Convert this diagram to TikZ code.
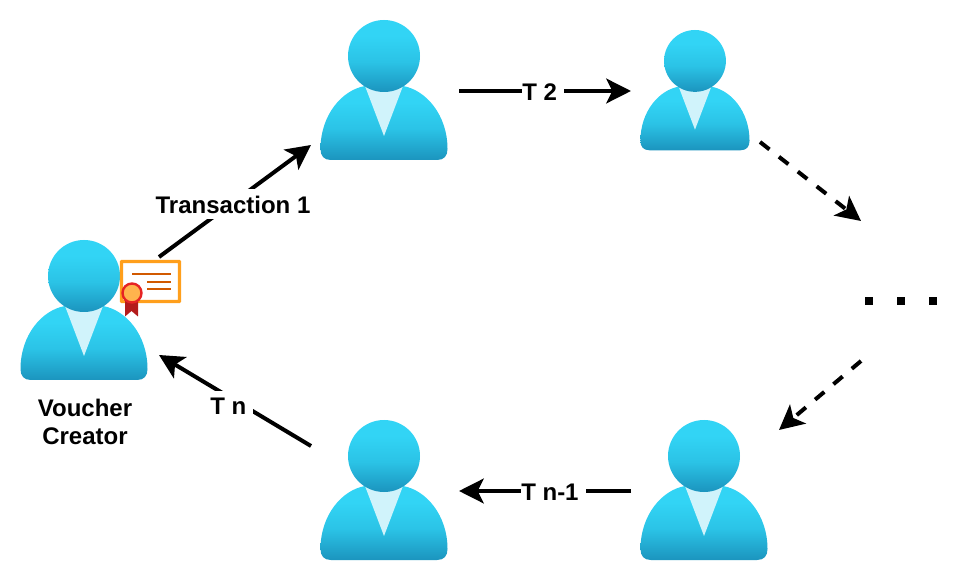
\documentclass[tikz,border=0pt]{standalone}
\usepackage{fontspec}
\setmainfont{Liberation Sans}
\usetikzlibrary{arrows.meta}
\definecolor{bodytop}{HTML}{32D4F5}
\definecolor{bodymid}{HTML}{2BC3E6}
\definecolor{bodybot}{HTML}{1B94BE}
\definecolor{neckc}{HTML}{D0F3FB}
\definecolor{certo}{HTML}{FF9F1C}
\definecolor{certl}{HTML}{D15900}
\definecolor{sealf}{HTML}{FFB34D}
\definecolor{seals}{HTML}{E62323}
\definecolor{ribbon}{HTML}{B31B1B}
\pgfdeclareverticalshading{azure}{100bp}{color(0bp)=(bodybot); color(25bp)=(bodybot); color(46bp)=(bodymid); color(64bp)=(bodytop); color(100bp)=(bodytop)}
\tikzset{
  x=0.75pt,y=-0.75pt,
  flow/.style={line width=3pt,-{Stealth[length=18.5pt,width=18.5pt,inset=4.5pt]}},
  flowdash/.style={flow,dash pattern=on 9pt off 9pt},
  lbl/.style={fill=white,inner sep=0pt,minimum height=22.5pt,font=\bfseries\fontsize{18pt}{20pt}\selectfont},
  person/.pic={
    \shade[shading=azure]
      (0.5,129) .. controls (0.5,95) and (22,70) .. (45,66) -- (83,66)
      .. controls (106,70) and (127.5,95) .. (127.5,129)
      .. controls (127.5,136) and (124,140) .. (117,140) -- (11,140)
      .. controls (4,140) and (0.5,136) .. (0.5,129) -- cycle;
    \fill[neckc] (45,66) -- (83,66) -- (64,116) -- cycle;
    \shade[shading=azure] (64,36) circle[radius=36];
  }
}
\newcommand{\lblgap}{\rule{5.25pt}{0pt}}
\begin{document}
\begin{tikzpicture}
\useasboundingbox (0,0) rectangle (970,580);
% people
\pic at (20,240) {person};
\pic at (320,20) {person};
\pic[scale=0.859] at (640,30) {person};
\pic at (640,420) {person};
\pic at (320,420) {person};
% certificate
\draw[certo,line width=2.6pt,fill=white,rounded corners=0.5pt] (121.5,261.5) rectangle (179.5,301.5);
\draw[certl,line width=1.5pt] (132,274) -- (171,274) (147,282) -- (171,282) (147,289) -- (171,289);
\fill[ribbon] (125,298) -- (138,298) -- (138,316.5) -- (131.5,311) -- (125,316.5) -- cycle;
\draw[seals,line width=1.8pt,fill=sealf] (132,293) circle[radius=9.5];
% connector ends
\coordinate (a1) at (159,257); \coordinate (a2) at (311,145);
\coordinate (b1) at (459,91);  \coordinate (b2) at (631,91);
\coordinate (c1) at (760,142); \coordinate (c2) at (861,221);
\coordinate (d1) at (861,361); \coordinate (d2) at (779,430);
\coordinate (e1) at (631,491); \coordinate (e2) at (459,491);
\coordinate (f1) at (311,446); \coordinate (f2) at (159,355);
\coordinate (g1) at (865,301); \coordinate (g2) at (937,301);
\draw[flow] (a1) -- (a2);
\draw[flow] (b1) -- (b2);
\draw[flowdash] (c1) -- (c2);
\draw[flowdash] (d1) -- (d2);
\draw[flow] (e1) -- (e2);
\draw[flow] (f1) -- (f2);
\draw[line width=6pt,dash pattern=on 6pt off 18pt] (g1) -- (g2);
% labels
\node[lbl] (t1) at (233,204.5) {Transaction 1};
\node[lbl,anchor=west] (t2) at (522,92) {T 2\lblgap};
\node[lbl,anchor=west] (tm) at (521,492) {T n-1\lblgap};
\node[lbl,anchor=west] (tn) at (210,406) {T n\lblgap};
\node[font=\bfseries\fontsize{18pt}{21pt}\selectfont,align=center,inner sep=0pt] (vc) at (85,422) {Voucher\\Creator};
\end{tikzpicture}
\end{document}
